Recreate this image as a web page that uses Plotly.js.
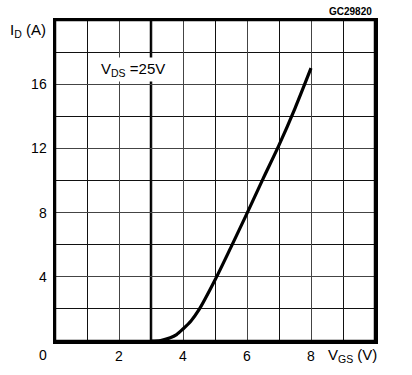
<!DOCTYPE html>
<html>
<head>
<meta charset="utf-8">
<script src="https://cdn.plot.ly/plotly-3.0.1.min.js"></script>
<style>html,body{margin:0;padding:0;background:#fff;}#chart{width:412px;height:375px;}</style>
</head>
<body>
<div id="chart"></div>
<script>
// Transfer characteristic data
var vgs = [3, 3.3, 3.6, 3.8, 4, 4.25, 4.5, 5, 5.5, 6, 6.5, 7, 7.5, 8];
var idA = [0, 0.03, 0.2, 0.4, 0.75, 1.25, 1.95, 3.8, 5.85, 7.95, 10.1, 12.2, 14.5, 17.0];

var xTickVals = [2, 4, 6, 8];
var xTickText = ["2", "4", "6", "8"];
var yTickVals = [4, 8, 12, 16];
var yTickText = ["4", "8", "12", "16"];

var fontFam = "Liberation Sans, Arial, sans-serif";

var trace = {
  x: vgs, y: idA, type: "scatter", mode: "lines",
  line: {color: "#000", width: 3.2, shape: "spline", smoothing: 0.8},
  hoverinfo: "skip"
};

var layout = {
  width: 412, height: 375,
  margin: {l: 55, r: 37, t: 20, b: 34, pad: 0},
  paper_bgcolor: "#fff", plot_bgcolor: "#fff",
  showlegend: false,
  font: {family: fontFam, size: 14, color: "#000"},
  xaxis: {
    range: [0, 10], tickmode: "array", tickvals: xTickVals, ticktext: xTickText,
    showgrid: true, gridcolor: "#444", gridwidth: 1,
    minor: {dtick: 1, tick0: 0, showgrid: true, gridcolor: "#111", gridwidth: 1},
    showline: true, linecolor: "#000", linewidth: 2.5, mirror: true,
    zeroline: false, ticks: "", ticklabelstandoff: 1,
    tickfont: {family: fontFam, size: 14, color: "#000"}, fixedrange: true
  },
  yaxis: {
    range: [0, 20], tickmode: "array", tickvals: yTickVals, ticktext: yTickText,
    showgrid: true, gridcolor: "#444", gridwidth: 1,
    minor: {dtick: 2, tick0: 0, showgrid: true, gridcolor: "#111", gridwidth: 1},
    showline: true, linecolor: "#000", linewidth: 2.5, mirror: true,
    zeroline: false, ticks: "", ticklabelstandoff: 3,
    tickfont: {family: fontFam, size: 14, color: "#000"}, fixedrange: true
  },
  shapes: [
    {type: "line", xref: "x", yref: "paper", x0: 3, x1: 3, y0: 0, y1: 1,
     line: {color: "#000", width: 2.5}, layer: "below"},
    {type: "rect", xref: "paper", yref: "paper", x0: 0, x1: 1, y0: 0, y1: 1,
     line: {color: "#000", width: 2.5}, fillcolor: "rgba(0,0,0,0)", layer: "above"}
  ],
  annotations: [
    {xref: "paper", yref: "paper", x: -0.085, y: 0.966, xanchor: "center", yanchor: "middle",
     text: "I<sub>D</sub> (A)",
     showarrow: false, font: {family: fontFam, size: 15, color: "#000"}},
    {xref: "paper", yref: "paper", x: -0.038, y: -0.044, xanchor: "center", yanchor: "middle",
     text: "0",
     showarrow: false, font: {family: fontFam, size: 14, color: "#000"}},
    {xref: "paper", yref: "paper", x: 0.93, y: -0.044, xanchor: "center", yanchor: "middle",
     text: "V<sub>GS</sub> (V)",
     showarrow: false, font: {family: fontFam, size: 15, color: "#000"}},
    {xref: "paper", yref: "paper", x: 0.922, y: 1.026, xanchor: "center", yanchor: "middle",
     text: "<b>GC29820</b>",
     showarrow: false, font: {family: fontFam, size: 10, color: "#000"}},
    {xref: "x", yref: "y", x: 2.45, y: 16.9, xanchor: "center", yanchor: "middle",
     text: "V<sub>DS</sub> =25V", bgcolor: "#fff", borderpad: 2,
     showarrow: false, font: {family: fontFam, size: 15, color: "#000"}}
  ]
};

Plotly.newPlot("chart", [trace], layout, {displayModeBar: false, staticPlot: true});
</script>
</body>
</html>
